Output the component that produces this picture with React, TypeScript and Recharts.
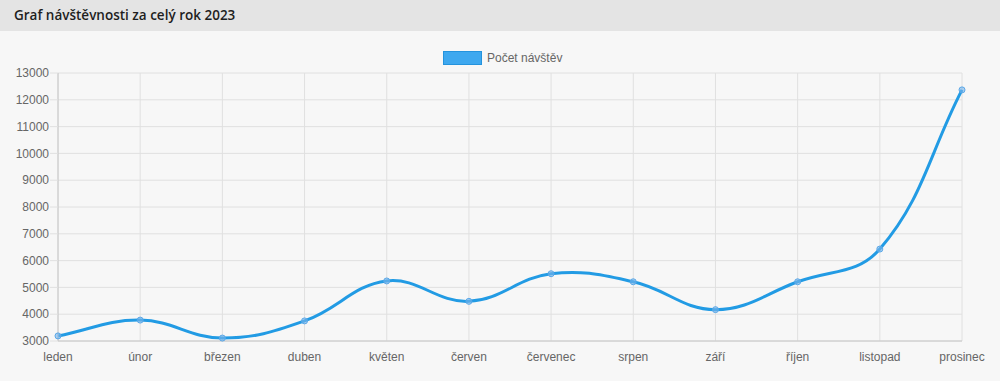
import React from "react";
import { LineChart, Line, XAxis, YAxis, CartesianGrid } from "recharts";

const months = ["leden", "únor", "březen", "duben", "květen", "červen", "červenec", "srpen", "září", "říjen", "listopad", "prosinec"];
const visits = [3190, 3780, 3110, 3750, 5240, 4480, 5510, 5210, 4170, 5210, 6430, 12370];
const yTicks = [3000, 4000, 5000, 6000, 7000, 8000, 9000, 10000, 11000, 12000, 13000];
const seriesName = "Počet návštěv";
const title = "Graf návštěvnosti za celý rok 2023";

const data = months.map((m, i) => ({ month: m, value: visits[i] }));

// Chart.js style spline (tension 0.4)
function chartJsCurve(context: any) {
  let pts: [number, number][] = [];
  const tension = 0.4;
  return {
    areaStart() {},
    areaEnd() {},
    lineStart() {
      pts = [];
    },
    lineEnd() {
      const n = pts.length;
      if (!n) return;
      const cps = pts.map((p, i) => {
        const p0 = pts[Math.max(0, i - 1)];
        const p2 = pts[Math.min(n - 1, i + 1)];
        const d01 = Math.hypot(p[0] - p0[0], p[1] - p0[1]);
        const d12 = Math.hypot(p2[0] - p[0], p2[1] - p[1]);
        let s01 = d01 / (d01 + d12);
        let s12 = d12 / (d01 + d12);
        if (isNaN(s01)) s01 = 0;
        if (isNaN(s12)) s12 = 0;
        const fa = tension * s01;
        const fb = tension * s12;
        return {
          prev: [p[0] - fa * (p2[0] - p0[0]), p[1] - fa * (p2[1] - p0[1])],
          next: [p[0] + fb * (p2[0] - p0[0]), p[1] + fb * (p2[1] - p0[1])],
        };
      });
      context.moveTo(pts[0][0], pts[0][1]);
      for (let i = 1; i < n; i++) {
        const a = cps[i - 1].next;
        const b = cps[i].prev;
        context.bezierCurveTo(a[0], a[1], b[0], b[1], pts[i][0], pts[i][1]);
      }
    },
    point(x: number, y: number) {
      pts.push([+x, +y]);
    },
  };
}

const fontFamily = "'Liberation Sans', Arial, Helvetica, sans-serif";

export default function App() {
  return (
    <div style={{ position: "absolute", left: 0, top: 0, width: 1000, height: 381, background: "#f7f7f7", overflow: "hidden" }}>
      <div
        style={{
          height: 31,
          background: "#e4e4e4",
          fontFamily: "'Open Sans', sans-serif",
          fontWeight: 600,
          fontSize: 13.5,
          color: "#1e1e1e",
          lineHeight: "30px",
          paddingLeft: 14,
        }}
      >
        {title}
      </div>
      <div style={{ position: "absolute", left: 443, top: 51, display: "flex", alignItems: "center", fontFamily, fontSize: 12, color: "#666" }}>
        <div style={{ width: 37, height: 12, background: "#3ea8ef", border: "1px solid #2493dd" }} />
        <span style={{ marginLeft: 5 }}>{seriesName}</span>
      </div>
      <div style={{ position: "absolute", left: 0, top: 31 }}>
        <LineChart width={1000} height={350} data={data} margin={{ top: 42, right: 38, bottom: 10, left: 8 }}>
          <CartesianGrid stroke="#e0e0e0" strokeWidth={1} />
          <XAxis
            dataKey="month"
            stroke="#c8c8c8"
            tickLine={false}
            tickSize={5}
            tickMargin={6}
            interval={0}
            height={30}
            tick={{ fill: "#666", fontSize: 12, fontFamily }}
          />
          <YAxis
            domain={[3000, 13000]}
            ticks={yTicks}
            interval={0}
            width={50}
            stroke="#c8c8c8"
            tickLine={{ stroke: "#e0e0e0" }}
            tickSize={8}
            tickMargin={1}
            tick={{ fill: "#666", fontSize: 12, fontFamily }}
          />
          <Line
            dataKey="value"
            name={seriesName}
            type={chartJsCurve as any}
            stroke="#229be4"
            strokeWidth={3}
            dot={{ r: 3, fill: "rgba(120,180,235,0.6)", stroke: "#5aa8e8", strokeWidth: 1 }}
            isAnimationActive={false}
          />
        </LineChart>
      </div>
    </div>
  );
}
